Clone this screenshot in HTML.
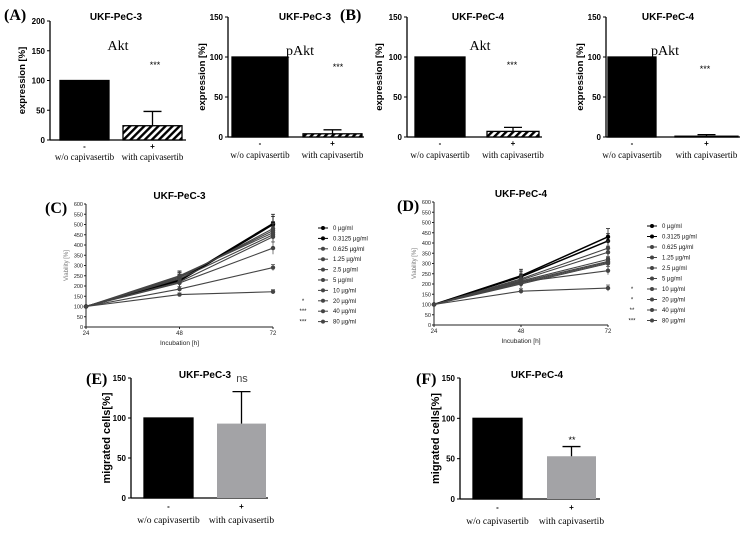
<!DOCTYPE html>
<html><head><meta charset="utf-8"><style>
body{margin:0;background:#fff}
svg{display:block;font-family:"Liberation Sans",Arial,sans-serif}
.ser{font-family:"Liberation Serif",serif}
</style></head><body>
<svg id="fig" width="749" height="534" viewBox="0 0 749 534">
<defs><pattern id="hatch" patternUnits="userSpaceOnUse" width="5" height="5" patternTransform="rotate(45)"><rect width="5" height="5" fill="#fff"/><rect width="2.4" height="5" fill="#000"/></pattern></defs>
</svg>
<script>
// ---- data ----
const barCategories = ["w/o capivasertib", "with capivasertib"];
const aktPec3 = [100, 24];      const aktPec3Err = [0, 24];
const paktPec3 = [100, 4];      const paktPec3Err = [0, 5];
const aktPec4 = [100, 7];       const aktPec4Err = [0, 5];
const paktPec4 = [100, 1];      const paktPec4Err = [0, 2];
const migPec3 = [100, 93];      const migPec3Err = [0, 40];
const migPec4 = [100, 53];      const migPec4Err = [0, 12];
const timePoints = [24, 48, 72];
const doseLabels = ["0 µg/ml","0.3125 µg/ml","0.625 µg/ml","1.25 µg/ml","2.5 µg/ml","5 µg/ml","10 µg/ml","20 µg/ml","40 µg/ml","80 µg/ml"];
const viabPec3 = [[100,230,505],[100,225,500],[100,240,480],[100,245,470],[100,250,460],[100,235,450],[100,220,440],[100,215,385],[100,185,290],[100,158,172]];
const viabPec3Err = [45,40,35,35,30,30,30,30,15,10];
const viabPec4 = [[100,240,430],[100,235,410],[100,225,375],[100,220,355],[100,215,320],[100,210,310],[100,205,305],[100,200,300],[100,210,265],[100,165,180]];
const viabPec4Err = [40,35,35,30,30,25,25,25,20,15];
const sigPec3 = ["","","","","","","","*","***","***"];
const sigPec4 = ["","","","","","","*","*","**","***"];
const viabTicks = [0,50,100,150,200,250,300,350,400,450,500,550,600];

const NS="http://www.w3.org/2000/svg";
const svg=document.getElementById('fig');
function el(tag,attrs,parent,text){const e=document.createElementNS(NS,tag);for(const k in attrs)e.setAttribute(k,attrs[k]);if(text!==undefined)e.textContent=text;(parent||svg).appendChild(e);return e;}

function barPanel(o){
  const g=el('g',{});
  
  
  const y=v=>o.y0-(v/o.max)*(o.y0-o.yTop);
  const lo=o.labOff||24;
  el('line',{x1:o.ax,y1:o.yTop,x2:o.ax,y2:o.y0,stroke:'#000','stroke-width':1.3},g);
  el('line',{x1:o.ax,y1:o.y0,x2:o.axEnd,y2:o.y0,stroke:'#000','stroke-width':1.3},g);
  o.ticks.forEach(t=>{el('line',{x1:o.ax-3,y1:y(t),x2:o.ax,y2:y(t),stroke:'#000'},g);
    const tl=el('text',{x:o.ax-5,y:y(t)+3,'font-size':8,'font-weight':'bold','text-anchor':'end'},g,t);
    });
  o.vals.forEach((v,i)=>{
    const r=el('rect',{x:o.bx[i][0],y:y(v),width:o.bx[i][1]-o.bx[i][0],height:o.y0-y(v),fill:o.fills[i],stroke:'#000','stroke-width':o.fills[i]==='#a3a3a6'?0:1.3},g);
    
    const e=o.errs[i];
    if(e>0){const cx=(o.bx[i][0]+o.bx[i][1])/2;el('line',{x1:cx,y1:y(v),x2:cx,y2:y(v+e),stroke:'#000','stroke-width':1.3},g);
      el('line',{x1:cx-9,y1:y(v+e),x2:cx+9,y2:y(v+e),stroke:'#000','stroke-width':1.3},g);}
    const cx=(o.bx[i][0]+o.bx[i][1])/2;
    el('text',{x:cx,y:o.y0+(lo<22?9:11),'font-size':8,'text-anchor':'middle','font-weight':'bold'},g,i?'+':'-');
    const lb=el('text',{x:cx,y:o.y0+lo,'font-size':o.labSize||10,'text-anchor':'middle',class:'ser'},g,barCategories[i]);
    
  });
  const t=el('text',{x:o.tx,y:o.ty,'font-size':10,'font-weight':'bold','text-anchor':'middle'},g,o.title);
  
  if(o.sub){const s=el('text',{x:o.sub[0],y:o.sub[1],'font-size':14,'text-anchor':'middle',class:'ser'},g,o.sub[2]);
    }
  if(o.sig)el('text',{x:o.sig[0],y:o.sig[1],'font-size':o.sig[3]||9,'text-anchor':'middle',fill:o.sig[4]||'#000'},g,o.sig[2]);
  const yl=el('text',{transform:`translate(${o.ylx},${(o.yTop+o.y0)/2}) rotate(-90)`,'font-size':o.ylSize||9.5,'font-weight':'bold','text-anchor':'middle'},g,o.ylabel);
  
  if(o.letter){const l=el('text',{x:o.letter[0],y:o.letter[1],'font-size':16,'font-weight':'bold',class:'ser'},g,o.letter[2]);
    }
}

barPanel({name:'panel-a-akt',ax:50,axEnd:186,yTop:21,y0:140,max:200,ticks:[0,50,100,150,200],vals:aktPec3,errs:aktPec3Err,bx:[[60,109],[123,182]],fills:['#000','url(#hatch)'],title:'UKF-PeC-3',tx:116,ty:20,sub:[118,50,'Akt'],sig:[155,68,'***'],ylabel:'expression [%]',ylx:25,letter:[4,20,'(A)'],labOff:20,labSize:9});
barPanel({name:'panel-a-pakt',ax:228,axEnd:364,yTop:17,y0:137,max:150,ticks:[0,50,100,150],vals:paktPec3,errs:paktPec3Err,bx:[[232,288],[303,362]],fills:['#000','url(#hatch)'],title:'UKF-PeC-3',tx:305,ty:20,sub:[300,55,'pAkt'],sig:[338,70,'***'],ylabel:'expression [%]',ylx:205,labOff:21,labSize:9});
barPanel({name:'panel-b-akt',ax:407,axEnd:542,yTop:17,y0:137,max:150,ticks:[0,50,100,150],vals:aktPec4,errs:aktPec4Err,bx:[[415,465],[487,539]],fills:['#000','url(#hatch)'],title:'UKF-PeC-4',tx:478,ty:20,sub:[480,50,'Akt'],sig:[512,68,'***'],ylabel:'expression [%]',ylx:382,letter:[340,20,'(B)'],labOff:21,labSize:9});
barPanel({name:'panel-b-pakt',ax:606,axEnd:740,yTop:17,y0:137,max:150,ticks:[0,50,100,150],vals:paktPec4,errs:paktPec4Err,bx:[[608,656],[675,738]],fills:['#000','url(#hatch)'],title:'UKF-PeC-4',tx:668,ty:20,sub:[665,55,'pAkt'],sig:[705,72,'***'],ylabel:'expression [%]',ylx:583,labOff:21,labSize:9});
barPanel({name:'panel-e-migration',ax:131,axEnd:268,yTop:378,y0:498,max:150,ticks:[0,50,100,150],vals:migPec3,errs:migPec3Err,bx:[[144,193],[217,266]],fills:['#000','#a3a3a6'],title:'UKF-PeC-3',tx:205,ty:378,sig:[242,382,'ns',11,'#444'],ylabel:'migrated cells[%]',ylx:110,ylSize:11,letter:[86,384,'(E)'],labOff:25,labSize:9.5});
barPanel({name:'panel-f-migration',ax:460,axEnd:600,yTop:378,y0:499,max:150,ticks:[0,50,100,150],vals:migPec4,errs:migPec4Err,bx:[[473,522],[547,596]],fills:['#000','#a3a3a6'],title:'UKF-PeC-4',tx:537,ty:378,sig:[572,443,'**',9],ylabel:'migrated cells[%]',ylx:439,ylSize:11,letter:[416,384,'(F)'],labOff:25,labSize:9.5});

function linePanel(o){
  const g=el('g',{});
  
  
  const x=t=>o.x0+(t-timePoints[0])/(timePoints[2]-timePoints[0])*(o.x1-o.x0);
  const y=v=>o.y0-v/600*(o.y0-o.yTop);
  el('line',{x1:o.x0,y1:o.yTop,x2:o.x0,y2:o.y0,stroke:'#222'},g);
  el('line',{x1:o.x0,y1:o.y0,x2:o.x1,y2:o.y0,stroke:'#222'},g);
  viabTicks.forEach(t=>{el('line',{x1:o.x0-2,y1:y(t),x2:o.x0,y2:y(t),stroke:'#222'},g);
    el('text',{x:o.x0-3,y:y(t)+2,'font-size':5.5,'text-anchor':'end',fill:'#222'},g,t);});
  timePoints.forEach(t=>{el('line',{x1:x(t),y1:o.y0,x2:x(t),y2:o.y0+2,stroke:'#222'},g);
    el('text',{x:x(t),y:o.y0+8,'font-size':6,'text-anchor':'middle',fill:'#222'},g,t);});
  o.data.forEach((s,i)=>{
    const col=i<2?'#000':'#444';
    const p=el('polyline',{points:s.map((v,j)=>x(timePoints[j])+','+y(v)).join(' '),fill:'none',stroke:col,'stroke-width':i<2?1.5:1.1},g);
    
    s.forEach((v,j)=>{
      if(j>0){const e=o.err[i]*(j===1?0.8:1);el('line',{x1:x(timePoints[j]),y1:y(v-e),x2:x(timePoints[j]),y2:y(v+e),stroke:col,'stroke-width':0.7},g);
        el('line',{x1:x(timePoints[j])-2,y1:y(v+e),x2:x(timePoints[j])+2,y2:y(v+e),stroke:col,'stroke-width':0.7},g);}
      const m=el('circle',{cx:x(timePoints[j]),cy:y(v),r:2.2,fill:col},g);
      
    });
    const ly=o.legY+i*o.legDy;
    const le=el('g',{},g);
    
    el('line',{x1:o.legX-5,y1:ly,x2:o.legX+5,y2:ly,stroke:col},le);
    el('circle',{cx:o.legX,cy:ly,r:2,fill:col},le);
    el('text',{x:o.legX+10,y:ly+2,'font-size':6,fill:'#111'},le,doseLabels[i]);
    el('text',{x:o.legX-20,y:ly+2,'font-size':6,'text-anchor':'middle',fill:'#111'},le,o.sig[i]);
  });
  const t=el('text',{x:(o.x0+o.x1)/2,y:o.ty,'font-size':10,'font-weight':'bold','text-anchor':'middle'},g,o.title);
  
  const xl=el('text',{x:(o.x0+o.x1)/2,y:o.y0+18,'font-size':6.5,'text-anchor':'middle',fill:'#222'},g,'Incubation [h]');
  
  const yl=el('text',{transform:`translate(${o.x0-18},${(o.yTop+o.y0)/2}) rotate(-90)`,'font-size':6,'text-anchor':'middle',fill:'#777'},g,'Viability [%]');
  
  const l=el('text',{x:o.letter[0],y:o.letter[1],'font-size':16,'font-weight':'bold',class:'ser'},g,o.letter[2]);
  
}
linePanel({name:'panel-c-viability',x0:86,x1:273,yTop:204,y0:327,data:viabPec3,err:viabPec3Err,sig:sigPec3,legX:323,legY:228,legDy:10.4,title:'UKF-PeC-3',ty:199,letter:[45,213,'(C)']});
linePanel({name:'panel-d-viability',x0:434,x1:608,yTop:202,y0:325,data:viabPec4,err:viabPec4Err,sig:sigPec4,legX:652,legY:226,legDy:10.5,title:'UKF-PeC-4',ty:197,letter:[397,211,'(D)']});
</script>
</body></html>
